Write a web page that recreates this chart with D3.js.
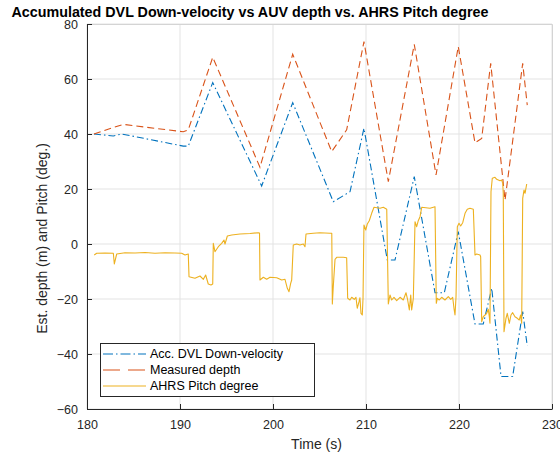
<!DOCTYPE html>
<html>
<head>
<meta charset="utf-8">
<script src="https://cdn.jsdelivr.net/npm/d3@7"></script>
<style>
  html, body { margin: 0; padding: 0; background: #fff; }
  svg { display: block; font-family: "Liberation Sans", Arial, Helvetica, sans-serif; }
</style>
</head>
<body>
<svg id="chart" width="560" height="455"></svg>
<script>
// Accumulated DVL down-velocity (depth estimate), [time s, value]
const dvlTime  = [180.75, 182.83, 183.73, 190.35, 190.89, 193.52, 198.78, 202.12, 206.48, 208.28, 209.78, 212.29, 213.12, 215.19, 217.42, 218.42, 219.92, 221.72, 222.61, 223.52, 224.52, 225.77, 226.85, 227.34];
const dvlValue = [40.0, 39.3, 40.0, 35.6, 35.6, 58.7, 21.1, 51.4, 15.4, 19.0, 42.1, -5.8, -5.8, 24.5, -17.7, -17.7, 4.5, -29.1, -29.1, -16.1, -48.2, -48.2, -24.6, -37.1];

// Measured AUV depth
const depthTime  = [180.75, 182.83, 183.90, 190.35, 190.89, 193.52, 198.60, 202.12, 206.31, 207.92, 209.78, 212.40, 215.19, 217.53, 219.92, 221.72, 222.44, 223.41, 224.95, 226.85, 227.34];
const depthValue = [40.0, 42.4, 43.5, 40.8, 41.5, 67.9, 27.9, 69.0, 33.6, 41.5, 73.6, 22.7, 72.6, 25.1, 71.8, 36.8, 38.4, 65.7, 16.0, 65.7, 50.5];

// AHRS pitch angle (deg)
const pitchTime = [
  180.78, 181.04, 181.94, 182.83, 182.94, 183.19, 184.09, 185.16, 186.24, 187.31, 188.39, 189.46, 190.18, 190.54, 190.89,
  190.97, 191.61, 192.15, 192.51, 192.76, 193.04, 193.33, 193.52,
  193.58, 193.76, 194.12, 194.48, 194.73, 194.84, 195.09, 195.56, 196.45, 197.53, 198.42, 198.55,
  198.60, 198.96, 199.32, 199.68, 200.40, 200.94, 201.29, 201.54, 201.72, 201.90, 202.01,
  202.18, 202.55, 202.90, 203.26, 203.44, 203.55, 204.33, 205.05, 206.13, 206.32,
  206.38, 206.48, 206.67, 206.85, 207.56, 207.92,
  208.03, 208.28, 208.46, 208.74, 208.92, 209.06, 209.25, 209.35, 209.46, 209.60, 209.68,
  209.78, 209.97, 210.14, 210.35, 210.61, 210.86, 211.51, 211.86, 212.23,
  212.40, 212.58, 212.76, 213.01, 213.30, 213.66, 214.01, 214.30, 214.48, 214.66, 214.81, 214.91, 215.09,
  215.27, 215.45, 215.62, 215.81, 215.99, 216.88, 217.42,
  217.56, 217.67, 217.88, 218.14, 218.49, 218.85, 219.11, 219.32, 219.46, 219.57, 219.68,
  219.82, 220.00, 220.18, 220.40, 220.65, 220.89, 221.18, 221.54,
  221.72, 221.90, 222.26, 222.33,
  222.44, 222.61, 222.80, 222.98, 223.15, 223.26, 223.33,
  223.44, 223.58, 223.87, 224.05, 224.23, 224.41, 224.59, 224.70, 224.76,
  224.84, 225.05, 225.19, 225.41, 225.59, 225.77, 226.02, 226.27, 226.48, 226.63, 226.74,
  226.85, 226.99, 227.10, 227.28
];
const pitchValue = [
  -4.0, -3.38, -3.27, -3.38, -7.27, -3.64, -3.16, -3.27, -3.09, -3.35, -3.16, -3.27, -3.38, -4.0, -3.64,
  -11.89, -12.47, -11.64, -12.84, -11.27, -14.55, -14.91, -14.55,
  0.25, -2.8, -0.98, 0.25, 1.45, 0.0, 2.91, 3.27, 3.64, 3.82, 4.11, 4.0,
  -13.09, -12.11, -12.84, -12.11, -12.25, -13.09, -12.84, -16.11, -17.35, -14.29, -13.09,
  -0.36, 0.0, -0.36, 0.0, -0.98, 3.64, 3.89, 4.11, 3.89, 3.89,
  -21.82, -15.53, -5.56, -4.84, -4.84, -4.98,
  -19.75, -20.36, -19.38, -20.11, -19.38, -23.38, -20.98, -19.53, -25.2, -25.82, -19.75,
  6.91, 5.09, 7.27, 8.47, 11.16, 13.35, 12.98, 13.35, 12.62,
  -21.82, -18.55, -20.36, -19.38, -20.62, -19.38, -20.36, -17.71, -20.36, -24.0, -18.55, -24.0, -19.75,
  8.11, 6.29, 8.47, 9.93, 13.35, 12.98, 13.56,
  -21.56, -19.75, -20.36, -19.38, -20.36, -19.16, -20.11, -19.38, -23.38, -25.82, -19.16,
  6.29, 7.53, 6.55, 7.75, 11.16, 12.62, 12.98, 12.62,
  -4.0, -3.64, -4.0, -4.62,
  -28.25, -26.44, -25.82, -25.2, -23.75, -26.44, -28.84,
  19.02, 23.89, 24.25, 23.53, 23.27, 23.02, 23.27, 22.07, 18.44,
  -31.89, -27.02, -25.2, -28.84, -25.82, -24.98, -26.44, -27.02, -27.64, -25.82, -28.84,
  16.62, 19.64, 18.44, 21.82
];

const xTicks = [180, 190, 200, 210, 220, 230];
const yTicks = [-60, -40, -20, 0, 20, 40, 60, 80];

const titleText = "Accumulated DVL Down-velocity vs AUV depth vs. AHRS Pitch degree";
const xLabel = "Time (s)";
const yLabel = "Est. depth (m) and Pitch (deg.)";

const seriesNames = ["Acc. DVL Down-velocity", "Measured depth", "AHRS Pitch degree"];
const seriesColors = ["#0072BD", "#D95319", "#EDB120"];

// ---- layout ----
const plot = { left: 87, right: 552, top: 24, bottom: 409 };
const svg = d3.select("#chart");

const x = d3.scaleLinear().domain([180, 230]).range([plot.left, plot.right]);
const y = d3.scaleLinear().domain([-60, 80]).range([plot.bottom, plot.top]);

// grid
const grid = svg.append("g");
grid.selectAll("line.gx").data(xTicks).join("line")
  .attr("x1", d => x(d)).attr("x2", d => x(d))
  .attr("y1", plot.top).attr("y2", plot.bottom)
  .attr("stroke", "#e3e3e3").attr("stroke-width", 1);
grid.selectAll("line.gy").data(yTicks).join("line")
  .attr("x1", plot.left).attr("x2", plot.right)
  .attr("y1", d => y(d)).attr("y2", d => y(d))
  .attr("stroke", "#e3e3e3").attr("stroke-width", 1);

// top / right frame
svg.append("path")
  .attr("d", `M${plot.left},${plot.top + 0.5}H${plot.right + 0.5}V${plot.bottom}`)
  .attr("fill", "none").attr("stroke", "#d4d4d4").attr("stroke-width", 1);

// series
const line = d3.line().x(d => x(d[0])).y(d => y(d[1]));
const zip = (a, b) => a.map((t, i) => [t, b[i]]);

const clip = svg.append("clipPath").attr("id", "clip")
  .append("rect").attr("x", plot.left).attr("y", plot.top)
  .attr("width", plot.right - plot.left).attr("height", plot.bottom - plot.top);

const lines = svg.append("g").attr("clip-path", "url(#clip)");
lines.append("path").datum(zip(dvlTime, dvlValue))
  .attr("d", line).attr("fill", "none")
  .attr("stroke", seriesColors[0]).attr("stroke-width", 1.1)
  .attr("stroke-dasharray", "7,3,1.5,3");
lines.append("path").datum(zip(depthTime, depthValue))
  .attr("d", line).attr("fill", "none")
  .attr("stroke", seriesColors[1]).attr("stroke-width", 1.1)
  .attr("stroke-dasharray", "7,4");
lines.append("path").datum(zip(pitchTime, pitchValue))
  .attr("d", line).attr("fill", "none")
  .attr("stroke", seriesColors[2]).attr("stroke-width", 1.1)
  .attr("stroke-linejoin", "round");

// axes (ticks pointing inward)
const axisColor = "#262626";
const xAxis = svg.append("g").attr("transform", `translate(0,${plot.bottom})`)
  .call(d3.axisBottom(x).tickValues(xTicks).tickSizeInner(-5).tickSizeOuter(0).tickPadding(11));
const yAxis = svg.append("g").attr("transform", `translate(${plot.left},0)`)
  .call(d3.axisLeft(y).tickValues(yTicks).tickSizeInner(-5).tickSizeOuter(0).tickPadding(9));
[xAxis, yAxis].forEach(g => {
  g.select(".domain").attr("stroke", axisColor);
  g.selectAll(".tick line").attr("stroke", axisColor);
  g.selectAll(".tick text").attr("fill", axisColor)
    .style("font-size", "12.5px").style("font-family", "'Liberation Sans', Arial, sans-serif");
});

// axis labels
svg.append("text").attr("x", (plot.left + plot.right) / 2 - 3).attr("y", 449)
  .attr("text-anchor", "middle").attr("fill", axisColor)
  .style("font-size", "14px").text(xLabel);
svg.append("text").attr("transform", `translate(47,${(plot.top + plot.bottom) / 2 + 22}) rotate(-90)`)
  .attr("text-anchor", "middle").attr("fill", axisColor)
  .style("font-size", "14px").text(yLabel);

// title
svg.append("text").attr("x", 250).attr("y", 17)
  .attr("text-anchor", "middle").attr("fill", "#000")
  .style("font-size", "14.3px").style("font-weight", "bold").text(titleText);

// legend
const legend = svg.append("g");
legend.append("rect").attr("x", 100.5).attr("y", 343.5).attr("width", 214).attr("height", 53)
  .attr("fill", "#fff").attr("stroke", axisColor).attr("stroke-width", 1);
const legendDash = ["10,3,1.5,3", "17,8", null];
seriesNames.forEach((name, i) => {
  const ly = 354 + i * 16;
  legend.append("line").attr("x1", 103).attr("x2", 146).attr("y1", ly).attr("y2", ly)
    .attr("stroke", seriesColors[i]).attr("stroke-width", 1.1)
    .attr("stroke-dasharray", legendDash[i]);
  legend.append("text").attr("x", 150).attr("y", ly).attr("dy", "0.35em")
    .attr("fill", "#000").style("font-size", "12.5px").text(name);
});
</script>
</body>
</html>
